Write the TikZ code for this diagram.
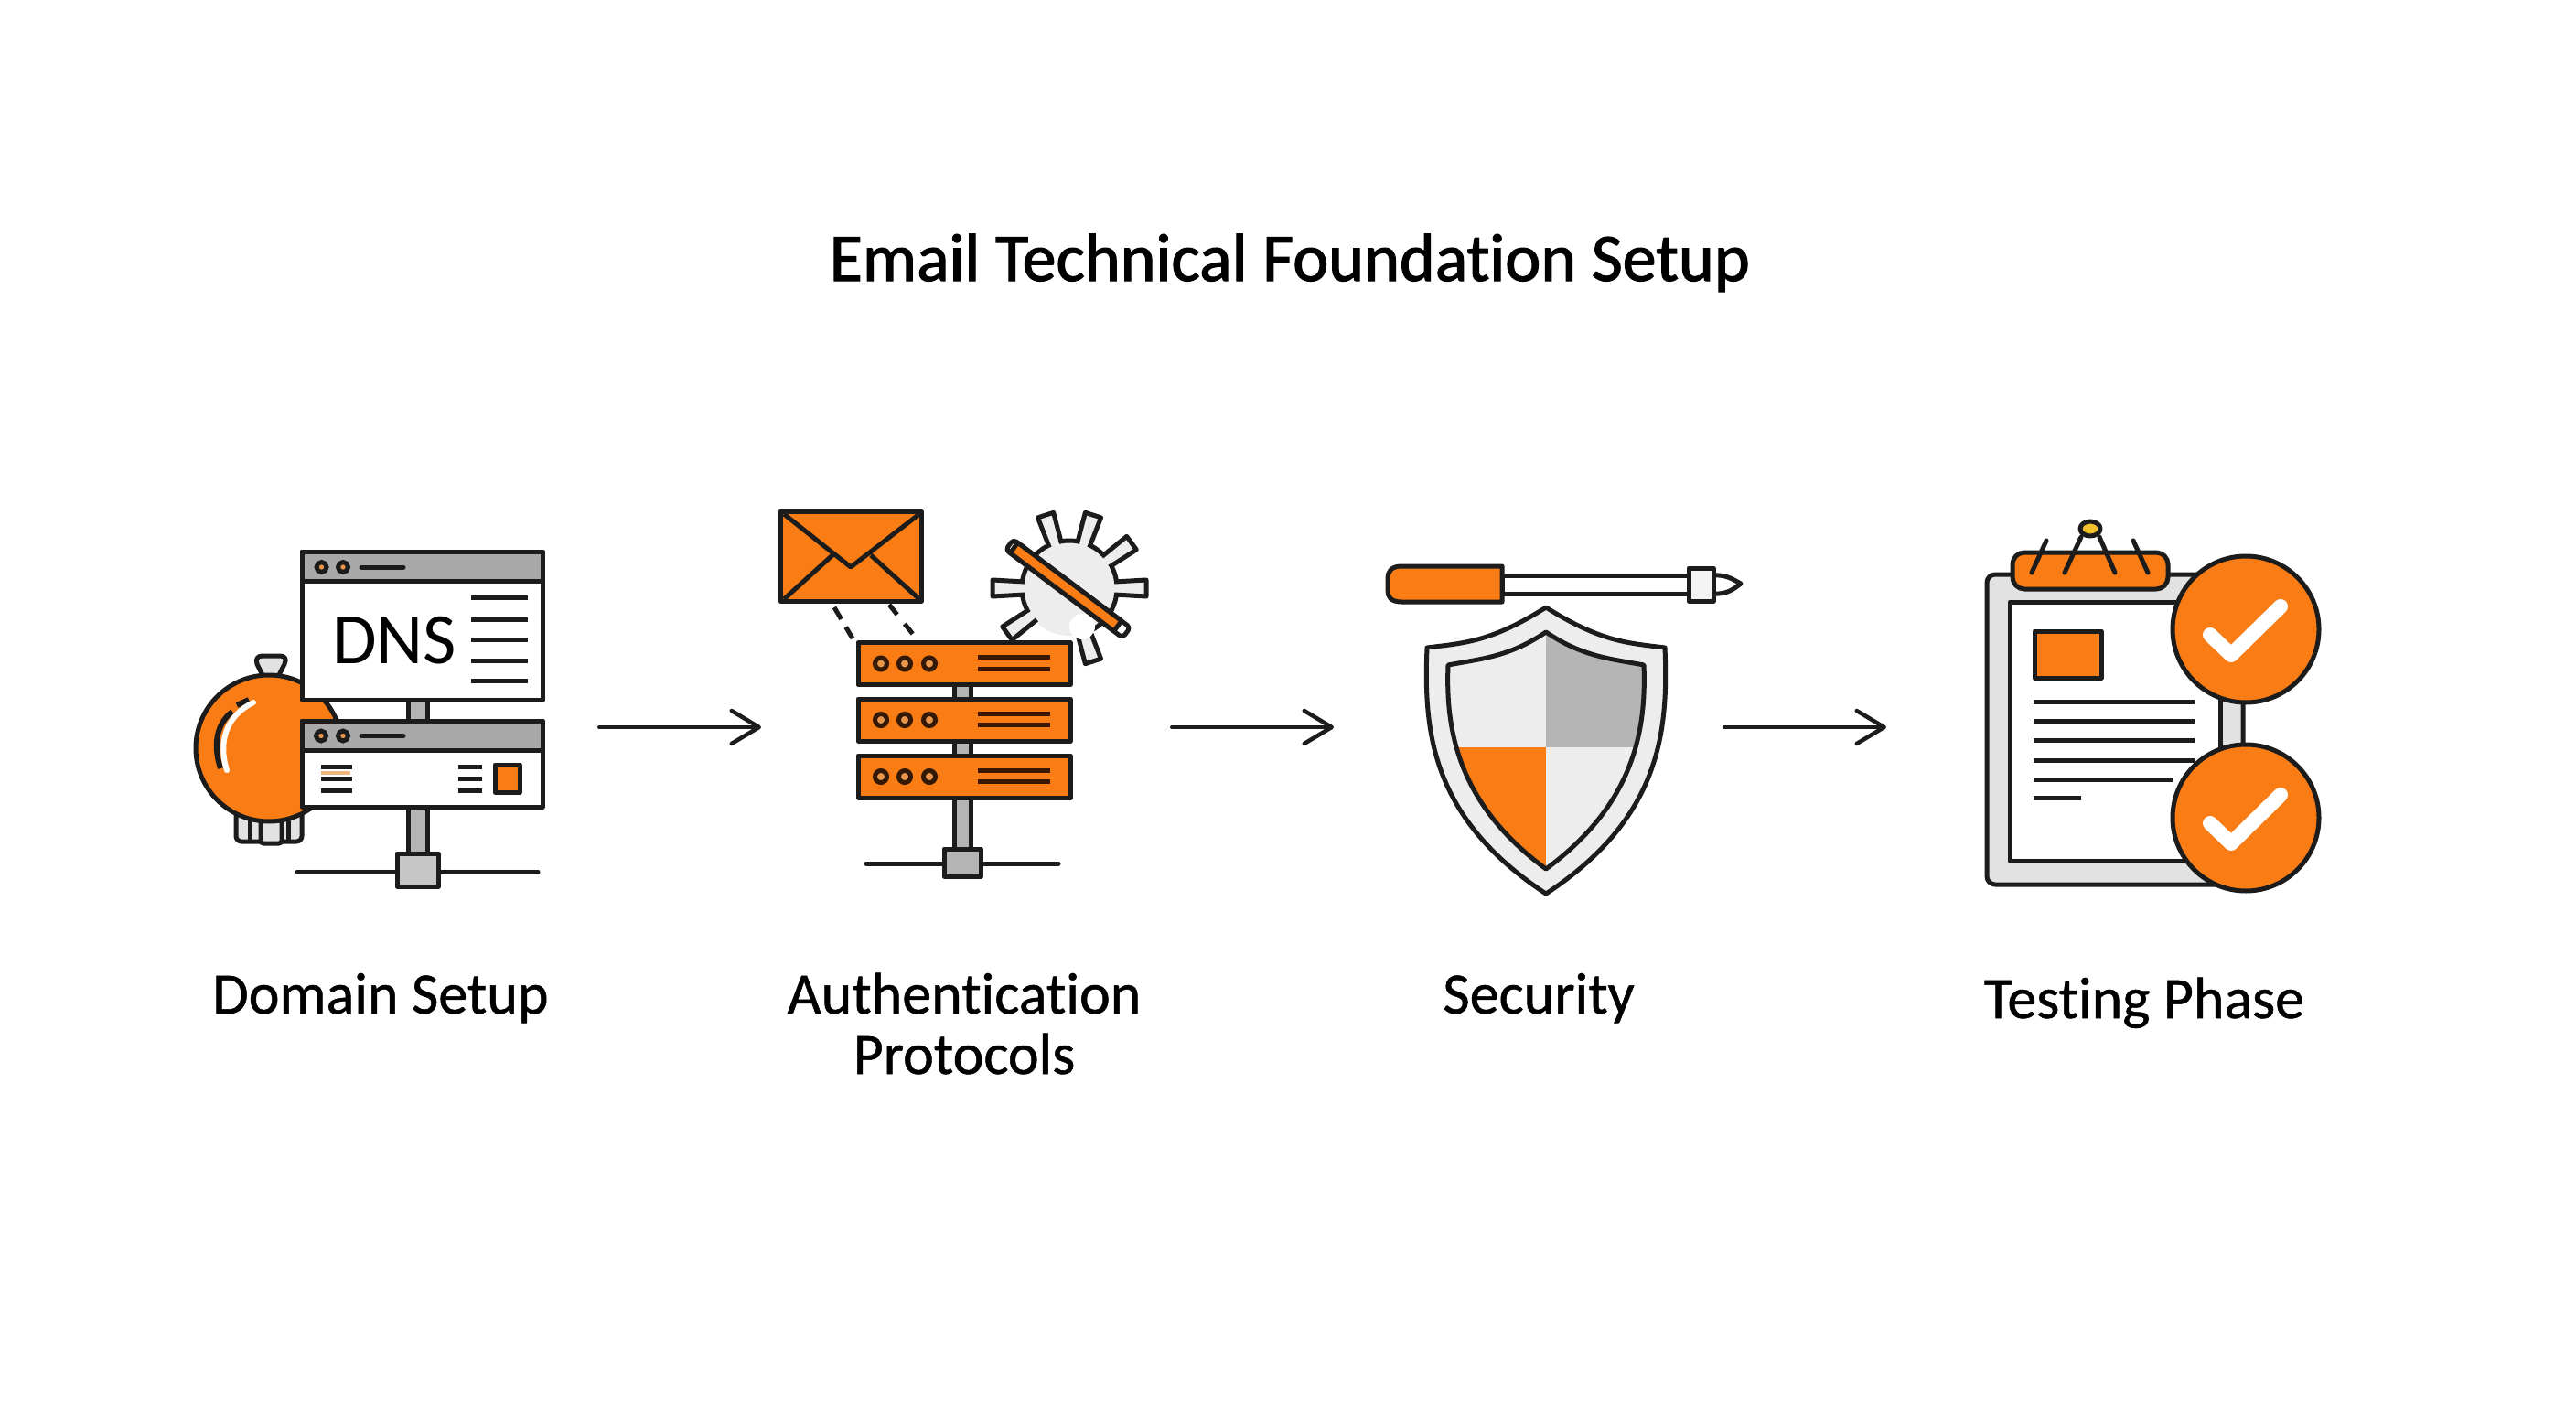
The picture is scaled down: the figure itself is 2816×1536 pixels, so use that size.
\documentclass[tikz,border=0pt]{standalone}
\usepackage{fontspec}
\setmainfont[Ligatures=NoCommon]{Carlito}
\newfontfamily\ttlfont[FakeBold=1.6,Ligatures=NoCommon]{Carlito}
\newfontfamily\lblfont[FakeBold=0.8,Ligatures=NoCommon]{Carlito}
\usetikzlibrary{arrows.meta}
\definecolor{ink}{HTML}{1C1C1C}
\definecolor{org}{HTML}{F97C14}
\definecolor{gbar}{HTML}{A9A9A9}
\definecolor{gpost}{HTML}{B4B4B4}
\definecolor{lgray}{HTML}{E2E2E2}
\definecolor{shl}{HTML}{EDEDED}
\definecolor{gdk}{HTML}{B5B5B5}
\definecolor{dot}{HTML}{E9964A}
\definecolor{brn}{HTML}{3A1800}
\tikzset{
 ol/.style={draw=ink,line width=5pt,line join=round},
 thin/.style={draw=ink,line width=5pt,line cap=round},
 flow/.style={draw=ink,line width=4pt,line cap=round,-{Straight Barb[length=30pt,width=36pt,line width=4.5pt,round]}},
 lbl/.style={font=\lblfont\fontsize{64}{66}\selectfont,text=black,align=center,inner sep=0pt,anchor=base},
 ttl/.style={font=\ttlfont\fontsize{74}{80}\selectfont,text=black,inner sep=0pt,anchor=base},
}
\begin{document}
\begin{tikzpicture}[x=1pt,y=-1pt]
\useasboundingbox (0,0) rectangle (2816,1536);
\fill[white] (0,0) rectangle (2816,1536);
\node[ttl] (title) at (1410,307) {Email Technical Foundation Setup};
% ---------- 1 domain
\draw[ol,fill=lgray] (288,740) -- (281,726) .. controls (279,720) and (282,717) .. (287,717) -- (306,717) .. controls (311,717) and (314,720) .. (311,726) -- (304,740) -- cycle;
\draw[ol,fill=lgray,rounded corners=6pt] (258,880) -- (258,920) -- (330,920) -- (330,880);
\draw[ol,fill=lgray,rounded corners=3pt] (285,885) -- (285,922) -- (308,922) -- (308,885);
\draw[ol] (273,885) -- (273,920) (315,885) -- (315,920);
\draw[ol,fill=org] (294,818) circle (80);
\draw[line width=6pt,ink] (241,840) .. controls (232,812) and (238,790) .. (254,778) (259,771) -- (272,765);
\draw[line width=6pt,white,line cap=round] (248,842) .. controls (238,810) and (248,782) .. (277,768);
\fill[gpost] (445,760) rectangle (468,790);
\draw[ol] (446,760) -- (446,790) (467,760) -- (467,790);
\fill[gpost] (445,880) rectangle (468,935);
\draw[ol] (446,880) -- (446,935) (467,880) -- (467,935);
\node[ol,fill=white,minimum width=263pt,minimum height=162pt,inner sep=0pt] (dnswin) at (461.5,684) {};
\draw[ol,fill=gbar] (330,603) rectangle (593,635);
\fill[dot,draw=ink,line width=5pt] (351.5,620) circle (5.5) (375,620) circle (5.5);
\draw[thin] (395,620) -- (441,620);
\node[font=\fontsize{79}{80}\selectfont,inner sep=0pt,anchor=base] (dns) at (431,725) {DNS};
\foreach \y in {653,677,699,722,744}{\draw[thin,line cap=butt] (515,\y) -- (577,\y);}
\node[ol,fill=white,minimum width=263pt,minimum height=94pt,inner sep=0pt] (win2) at (461.5,835) {};
\draw[ol,fill=gbar] (330,788) rectangle (593,820);
\fill[dot,draw=ink,line width=5pt] (351,804.5) circle (5.5) (375,804.5) circle (5.5);
\draw[thin] (395,804.5) -- (441,804.5);
\foreach \y in {838,851.5,864.5}{\draw[thin,line cap=butt] (351,\y) -- (385,\y);}
\draw[line width=4pt,dot!70!white] (351,844.5) -- (383,844.5);
\foreach \y in {838,851,864}{\draw[thin,line cap=butt] (501,\y) -- (527,\y);}
\draw[ol,fill=org] (541,836) rectangle (568,866);
\draw[thin,line cap=round] (325,953) -- (588,953);
\node[ol,fill=gpost!60!lgray,minimum width=45pt,minimum height=36pt,inner sep=0pt] (hub1) at (456.5,951) {};
% ---------- 2 auth
\begin{scope}[shift={(1169,643)}]
 \fill[shl] (0,0) circle (52);
 \draw[ol] (135:52) arc (135:420:52);
 \foreach \a in {0,-36,-72,-108,180,144,72}{
  \begin{scope}[rotate=-\a]
   \fill[shl] (40,-7) -- (84,-9) -- (84,9) -- (40,7) -- cycle;
   \draw[ol] (49,-7) -- (84,-9) -- (84,9) -- (49,7);
  \end{scope}}
 \fill[white] (14,42) circle (14);
\end{scope}
\draw[ol,fill=org] (853,559) rectangle (1007,657);
\draw[ol] (857,562) -- (930,620) -- (1005,562) (857,655) -- (910,607) (1005,655) -- (952,607);
\coordinate (d1a) at (912,664); \coordinate (d1b) at (932,698);
\coordinate (d2a) at (972,661); \coordinate (d2b) at (1001,697);
\draw[draw=ink,line width=5pt,dash pattern=on 15pt off 10pt] (d1a) -- (d1b);
\draw[draw=ink,line width=5pt,dash pattern=on 14pt off 13pt] (d2a) -- (d2b);
\draw[ol,fill=gpost] (1043,740) rectangle (1061,935);
\foreach \y in {725.5,787,849}{
 \draw[ol,fill=org] (938,\y-23) rectangle (1170,\y+23);
 \foreach \x in {963,989,1016}{\fill[dot,draw=brn!80!ink,line width=5pt] (\x,\y) circle (6.5);}
 \draw[thin,line cap=butt,draw=brn] (1069,\y-7) -- (1148,\y-7) (1069,\y+5.5) -- (1148,\y+5.5);
}
\draw[thin,line cap=round] (947,944) -- (1157,944);
\node[ol,fill=gpost,minimum width=40pt,minimum height=30pt,inner sep=0pt] (hub2) at (1052,943) {};
\begin{scope}[shift={(1167.5,643.5)},rotate=-37]
 \draw[ol,fill=white,rounded corners=4pt] (-80,-7) rectangle (80,7);
 \draw[ol,fill=org] (-74,-7) rectangle (68,7);
\end{scope}
% ---------- 3 security
\draw[ol,fill=white] (1642,629) rectangle (1855,649);
\draw[ol,fill=white] (1873,629) .. controls (1888,628) and (1895,634) .. (1903,638) .. controls (1895,644) and (1888,650) .. (1873,649);
\draw[ol,fill=shl!60!white] (1846,621) rectangle (1873,657);
\draw[ol,fill=org] (1642,619) -- (1532,619) .. controls (1520,619) and (1517,626) .. (1517,632) -- (1517,646) .. controls (1517,652) and (1520,658) .. (1532,658) -- (1642,658) -- cycle;
\draw[ol,fill=shl] (1690,664) .. controls (1630,702) and (1600,703) .. (1560,708) .. controls (1556,800) and (1565,895) .. (1690,977) .. controls (1815,895) and (1824,800) .. (1820,708) .. controls (1780,703) and (1750,702) .. (1690,664) -- cycle;
\begin{scope}
 \clip (1690,691) .. controls (1650,718) and (1620,720) .. (1583,727) .. controls (1580,800) and (1595,880) .. (1690,950) .. controls (1785,880) and (1800,800) .. (1797,727) .. controls (1760,720) and (1730,718) .. (1690,691) -- cycle;
 \fill[shl] (1570,680) rectangle (1690,817);
 \fill[gdk] (1690,680) rectangle (1810,817);
 \fill[org] (1570,817) rectangle (1690,960);
 \fill[shl] (1690,817) rectangle (1810,960);
\end{scope}
\draw[ol] (1690,691) .. controls (1650,718) and (1620,720) .. (1583,727) .. controls (1580,800) and (1595,880) .. (1690,950) .. controls (1785,880) and (1800,800) .. (1797,727) .. controls (1760,720) and (1730,718) .. (1690,691) -- cycle;
% ---------- 4 testing
\draw[ol,fill=lgray,rounded corners=9pt] (2172,628) rectangle (2452,967);
\draw[ol,fill=white] (2197,658) rectangle (2427,941);
\draw[ol,fill=org] (2224,690) rectangle (2297,741);
\foreach \y/\e in {767/2399,788/2399,809/2399,831/2399,852/2375,872/2275}{\draw[thin,line cap=butt] (2223,\y) -- (\e,\y);}
\draw[ol,fill=org,rounded corners=13pt] (2200,604) rectangle (2370,644);
\draw[thin] (2221,626) -- (2237,591) (2257,626) -- (2275,587) (2312,626) -- (2295,587) (2348,626) -- (2332,591);
\draw[ol,fill=dot!60!yellow] (2285,578) ellipse (11 and 8);
\foreach \cy in {688,894}{
 \draw[ol,fill=org] (2455,\cy) circle (80);
 \draw[white,line width=16pt,line cap=round,line join=round] (2416,\cy+6) -- (2439,\cy+28) -- (2493,\cy-25);
}
% ---------- labels
\node[lbl] (l1) at (416,1108) {Domain Setup};
\node[lbl] (l2) at (1054,1174) {Authentication\\Protocols};
\node[lbl] (l3) at (1682,1108) {Security};
\node[lbl] (l4) at (2344,1113) {Testing Phase};
% ---------- arrows
\coordinate (a1s) at (655,795); \coordinate (a1e) at (832,795);
\coordinate (a2s) at (1281,795); \coordinate (a2e) at (1458,795);
\coordinate (a3s) at (1885,795); \coordinate (a3e) at (2062,795);
\draw[flow] (a1s) -- (a1e);
\draw[flow] (a2s) -- (a2e);
\draw[flow] (a3s) -- (a3e);
\end{tikzpicture}
\end{document}
